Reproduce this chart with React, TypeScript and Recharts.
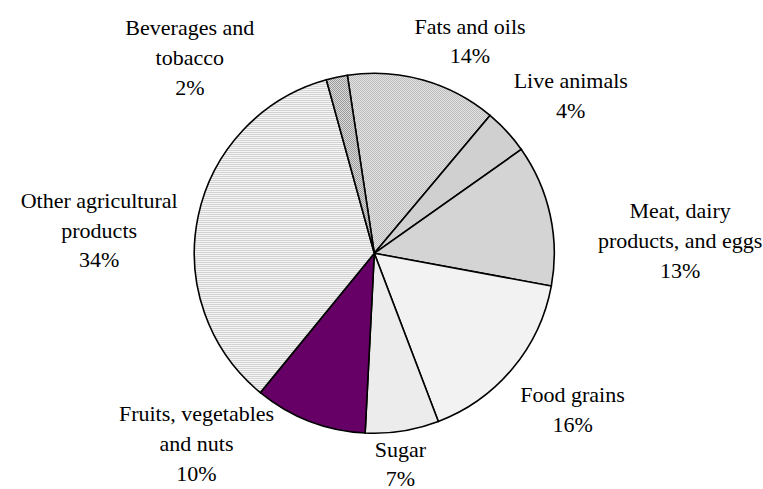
import React from "react";
import { PieChart, Pie, Cell } from "recharts";

// Categories in clockwise order starting at the top
const categories = [
  "Fats and oils",
  "Live animals",
  "Meat, dairy products, and eggs",
  "Food grains",
  "Sugar",
  "Fruits, vegetables and nuts",
  "Other agricultural products",
  "Beverages and tobacco",
];

// Shares (percent)
const shares = [13.5, 4.1, 12.7, 16.3, 6.6, 10.1, 34.8, 1.9];

// Percent labels printed on the chart
const percentLabels = ["14%", "4%", "13%", "16%", "7%", "10%", "34%", "2%"];

// Label text lines (as wrapped in the chart)
const labelLines = [
  ["Fats and oils"],
  ["Live animals"],
  ["Meat, dairy", "products, and eggs"],
  ["Food grains"],
  ["Sugar"],
  ["Fruits, vegetables", "and nuts"],
  ["Other agricultural", "products"],
  ["Beverages and", "tobacco"],
];

const data = categories.map((name, i) => ({
  name,
  value: shares[i],
  pct: percentLabels[i],
  lines: labelLines[i],
}));

// styling (kept apart from data)
const fills = [
  "url(#patFats)",
  "#d0d0d0",
  "#d4d4d4",
  "#f2f2f2",
  "#ececec",
  "#660066",
  "url(#patOther)",
  "url(#patBev)",
];

// label nudges relative to the slice's mid point on the rim
const labelNudges = [
  [47, -46],
  [64, -43],
  [130, 3],
  [60, 33],
  [-2, 26],
  [-113, 0],
  [-99, -8],
  [-147, -42],
];
const lineGaps = [29, 30, 30, 30, 29, 30, 29.5, 30];

const RAD = Math.PI / 180;
const FONT = "'Liberation Serif', 'Times New Roman', Times, serif";

const renderLabel = (props: any) => {
  const { cx, cy, midAngle, outerRadius, index } = props;
  const px = cx + outerRadius * Math.cos(-midAngle * RAD);
  const py = cy + outerRadius * Math.sin(-midAngle * RAD);
  const [dx, dy] = labelNudges[index];
  const x = px + dx;
  const y0 = py + dy;
  const d = data[index];
  const all = [...d.lines, d.pct];
  const gap = lineGaps[index];
  return (
    <text
      key={`lbl-${index}`}
      x={x}
      y={y0}
      textAnchor="middle"
      fill="#000"
      fontFamily={FONT}
      fontSize={22}
    >
      {all.map((t, k) => (
        <tspan key={k} x={x} y={y0 + k * gap}>
          {t}
        </tspan>
      ))}
    </text>
  );
};

export default function App() {
  return (
    <div style={{ position: "absolute", left: 0, top: 0, background: "#fff" }}>
      <PieChart width={763} height={489}>
        <defs>
          <pattern id="patFats" width="2" height="2" patternUnits="userSpaceOnUse">
            <rect x="0" y="0" width="2" height="2" fill="#e2e2e2" />
            <rect x="0" y="0" width="1" height="1" fill="#bdbdbd" />
            <rect x="1" y="1" width="1" height="1" fill="#bdbdbd" />
          </pattern>
          <pattern id="patBev" width="2" height="2" patternUnits="userSpaceOnUse">
            <rect x="0" y="0" width="2" height="2" fill="#dadada" />
            <rect x="0" y="0" width="1" height="1" fill="#9a9a9a" />
            <rect x="1" y="1" width="1" height="1" fill="#9a9a9a" />
          </pattern>
          <pattern id="patOther" width="4" height="2" patternUnits="userSpaceOnUse">
            <rect x="0" y="0" width="4" height="2" fill="#f6f6f6" />
            <rect x="0" y="0" width="4" height="1" fill="#d2d2d2" />
          </pattern>
        </defs>
        <Pie
          data={data}
          dataKey="value"
          nameKey="name"
          cx={369.3}
          cy={248.3}
          outerRadius={180}
          startAngle={98.6}
          endAngle={-261.4}
          stroke="#000"
          strokeWidth={1.6}
          label={renderLabel}
          labelLine={false}
          isAnimationActive={false}
        >
          {data.map((d, i) => (
            <Cell key={d.name} fill={fills[i]} stroke="#000" strokeWidth={1.6} />
          ))}
        </Pie>
      </PieChart>
    </div>
  );
}
